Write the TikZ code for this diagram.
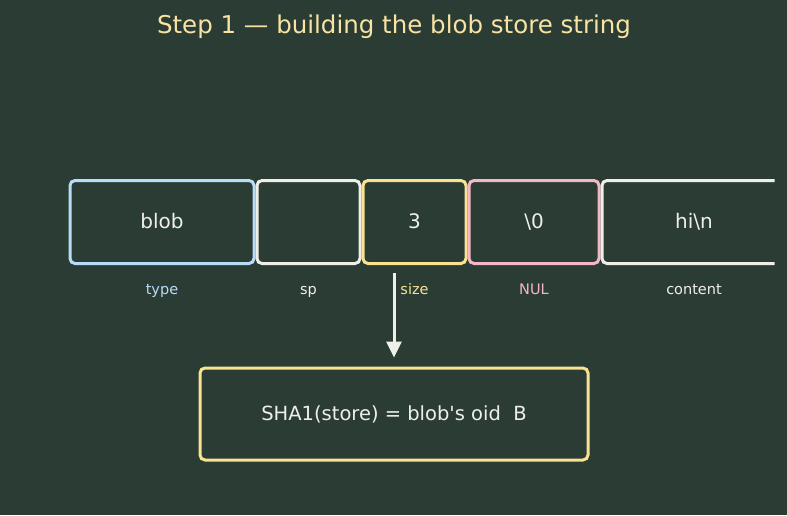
\documentclass[tikz,border=0pt]{standalone}
\usepackage{fontspec}
\setmainfont{DejaVu Sans}
\usepackage{tikz}
\usetikzlibrary{arrows.meta}
\definecolor{bgdark}{HTML}{2B3C34}
\definecolor{inkwhite}{HTML}{EEF0E8}
\definecolor{inkblue}{HTML}{B9DCF7}
\definecolor{inkyellow}{HTML}{F9E391}
\definecolor{inkpink}{HTML}{F5B7C7}
\definecolor{titleyellow}{HTML}{F7E3A3}

\begin{document}
\begin{tikzpicture}[x=1pt,y=-1pt,
    field/.style={draw=#1,line width=3pt,rounded corners=5pt,inner sep=0pt,outer sep=0pt,
      minimum height=83pt,text=inkwhite,text height=14.5pt,text depth=1.5pt,
      font=\fontsize{20}{24}\selectfont},
    tag/.style={text=#1,anchor=base,font=\fontsize{14.5}{17}\selectfont}]
  \fill[bgdark] (0,0) rectangle (787,515);
  \useasboundingbox (0,0) rectangle (787,515);
  \node[text=titleyellow,anchor=base,font=\fontsize{24.5}{29}\selectfont] (title) at (394,33) {Step 1 — building the blob store string};
  % the five fields of the store string
  \node[field=inkblue,minimum width=184pt] (type) at (162,222) {blob};
  \node[field=inkwhite,minimum width=103pt] (sp) at (308.5,222) {};
  \node[field=inkyellow,minimum width=103pt] (size) at (414.5,222) {3};
  \node[field=inkpink,minimum width=130pt] (nul) at (534,222) {\textbackslash 0};
  \begin{scope}
    \clip (0,0) rectangle (774.5,515);
    \node[field=inkwhite,minimum width=184pt] (content) at (694,222) {hi\textbackslash n};
  \end{scope}
  \node[tag=inkblue] (typetag) at (162,294) {type};
  \node[tag=inkwhite] (sptag) at (308.5,294) {sp};
  \node[tag=inkyellow] (sizetag) at (414.5,294) {size};
  \node[tag=inkpink] (nultag) at (534,294) {NUL};
  \node[tag=inkwhite] (contenttag) at (694,294) {content};
  % hash of the whole string
  \node[draw=inkyellow,line width=3pt,rounded corners=5pt,inner sep=0pt,
    minimum width=388pt,minimum height=92pt,text=inkwhite,
    font=\fontsize{19.5}{23}\selectfont] (sha) at (394,414) {SHA1(store) = blob\textquotesingle s oid\ \ B};
  \coordinate (hashin) at (394,273);
  \draw[-{Triangle[length=16pt,width=15pt]},inkwhite,line width=3pt,shorten >=9pt] (hashin) -- (sha.north);
\end{tikzpicture}
\end{document}
